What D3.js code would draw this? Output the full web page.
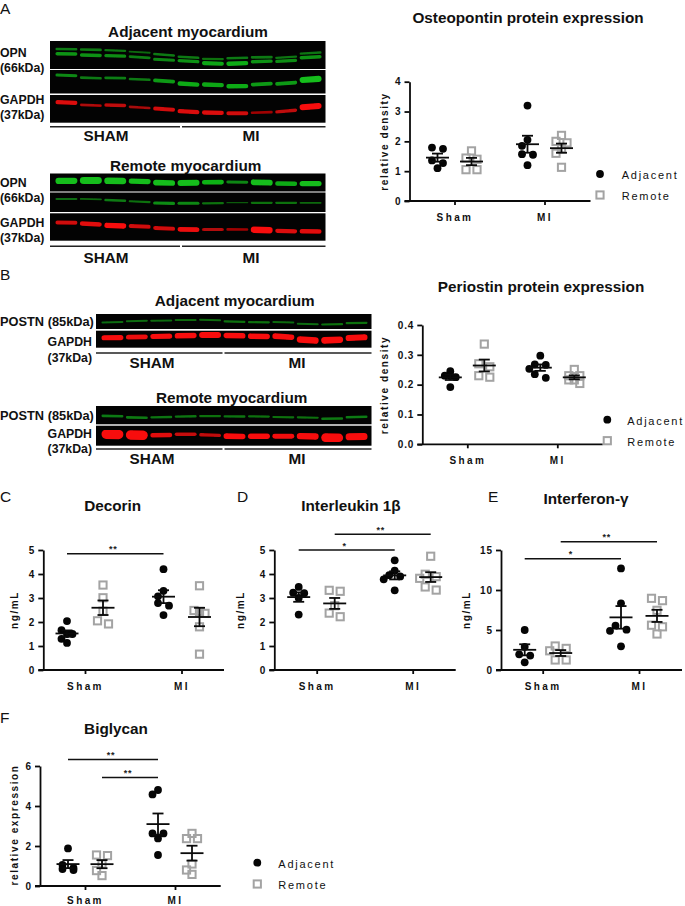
<!DOCTYPE html>
<html>
<head>
<meta charset="utf-8">
<script src="https://cdn.jsdelivr.net/npm/d3@7"></script>
<style>
  body { margin: 0; background: #fff; }
  svg { display: block; font-family: "Liberation Sans", Arial, sans-serif; }
</style>
</head>
<body>
<svg id="fig" width="685" height="906"></svg>
<script>
// categories
var groups = ["Sham", "MI"];
var seriesNames = ["Adjacent", "Remote"];

// values per group: [Sham, MI]
var opnAdjacent = [[1.79, 1.75, 1.36, 1.27, 1.10], [3.2, 2.05, 1.85, 1.55, 1.57, 1.2]];
var opnRemote = [[1.68, 1.40, 1.44, 1.05, 1.05], [2.2, 2.0, 1.95, 1.75, 1.6, 1.13]];
var postnAdjacent = [[.245, .23, .23, .225, .192], [.297, .268, .266, .253, .235, .223]];
var postnRemote = [[.336, .27, .26, .23, .225], [.251, .23, .23, .216, .216, .204]];
var decorinAdjacent = [[2.04, 1.66, 1.5, 1.5, 1.3, 1.13], [4.2, 3.3, 3.07, 2.79, 2.68, 2.29]];
var decorinRemote = [[3.54, 3.01, 2.45, 1.92, 2.05], [3.51, 2.48, 2.44, 2.36, 1.8, .66]];
var il1Adjacent = [[3.46, 3.22, 3.2, 3.0, 2.31], [4.57, 4.14, 3.95, 3.9, 3.78, 3.32]];
var il1Remote = [[3.32, 3.28, 2.68, 2.37, 2.22], [4.74, 3.99, 3.89, 3.82, 3.46, 3.33]];
var ifnAdjacent = [[5.0, 2.9, 1.96, 1.8, .96], [12.7, 8.33, 5.54, 5.04, 4.9, 2.96]];
var ifnRemote = [[3.0, 2.7, 2.4, 1.25, 1.25], [8.96, 8.67, 7.46, 5.4, 5.6, 4.5]];
var bgnAdjacent = [[1.88, 1.05, .9, .85, .8], [4.8, 4.58, 2.63, 2.63, 2.38, 1.55]];
var bgnRemote = [[1.52, 1.55, 1.1, .77, .52], [2.63, 2.37, 2.37, 1.1, .8, .58]];

// significance bars: [from group, from series, to group, to series, level, label]
var decorinSig = [[0, 0, 1, 0, 4.84, "**"]];
var il1Sig = [[0, 0, 1, 0, 5.0, "*"], [0, 1, 1, 1, 5.66, "**"]];
var ifnSig = [[0, 0, 1, 0, 13.9, "*"], [0, 1, 1, 1, 16.04, "**"]];
var bgnSig = [[0, 0, 1, 0, 6.33, "**"], [0, 1, 1, 0, 5.43, "**"]];

// blot bands, lane by lane: migration (0 top, 1 bottom of strip) and signal (0-1)
var a1OpnUpperLevel = [.29, .31, .34, .40, .49, .58, .64, .61, .58, .58, .43];
var a1OpnUpperSignal = [.2, .2, .18, .12, .2, .2, .16, .2, .2, .18, .18];
var a1OpnLowerLevel = [.46, .51, .53, .58, .67, .72, .80, .80, .73, .71, .58];
var a1OpnLowerSignal = [.32, .3, .28, .22, .25, .3, .38, .42, .3, .28, .3];
var a1ShortLevel = [.23, .34, .34, .40, .47, .60, .63, .69, .60, .56, .40];
var a1ShortSignal = [.26, .2, .22, .2, .34, .42, .4, .42, .34, .34, .6];
var a1GapdhLevel = [.27, .37, .37, .45, .51, .60, .64, .66, .63, .58, .42];
var a1GapdhSignal = [.4, .24, .3, .22, .36, .4, .4, .36, .2, .3, .58];
var a2OpnLevel = [.41, .39, .41, .44, .52, .52, .48, .48, .50, .56, .56];
var a2OpnSignal = [.62, .7, .68, .5, .55, .58, .45, .25, .58, .42, .5];
var a2ShortLevel = [.33, .34, .40, .47, .55, .55, .55, .52, .53, .53, .53];
var a2ShortSignal = [.14, .12, .2, .16, .28, .26, .16, .06, .16, .16, .12];
var a2GapdhLevel = [.34, .39, .45, .48, .55, .59, .59, .59, .61, .65, .66];
var a2GapdhSignal = [.36, .42, .52, .36, .36, .46, .26, .2, .64, .4, .42];
var b1PostnLevel = [.55, .47, .44, .40, .40, .51, .55, .55, .67, .69, .6];
var b1PostnSignal = [.14, .14, .13, .13, .13, .16, .16, .13, .14, .16, .16];
var b1GapdhLevel = [.41, .37, .33, .29, .25, .29, .33, .35, .55, .55, .41];
var b1GapdhSignal = [.5, .46, .5, .55, .6, .55, .55, .55, .66, .66, .6];
var b2PostnLevel = [.55, .63, .61, .57, .55, .57, .57, .61, .63, .69, .6];
var b2PostnSignal = [.2, .2, .18, .18, .16, .18, .16, .16, .16, .2, .2];
var b2GapdhLevel = [.43, .47, .47, .43, .47, .53, .53, .53, .53, .6, .55];
var b2GapdhSignal = [1, 1, .42, .32, .3, .56, .54, .48, .64, .9, .72];

var GREEN = "#12bd1a", RED = "#f80a0a", GREY = "#a3a3a3";
var svg = d3.select("#fig");
var defs = svg.append("defs");
defs.append("filter").attr("id", "soft").attr("x", "-20%").attr("y", "-100%").attr("width", "140%").attr("height", "300%")
    .append("feGaussianBlur").attr("stdDeviation", 0.6);

function label(x, y, t, opt) {
    opt = opt || {};
    return svg.append("text")
        .attr("x", x).attr("y", y)
        .attr("text-anchor", opt.anchor || "start")
        .attr("font-size", opt.size || 12.3)
        .attr("font-weight", opt.weight || "bold")
        .attr("letter-spacing", opt.ls || 0)
        .attr("fill", "#111")
        .text(t);
}

/* one strip of a blot */
function strip(x0, x1, y0, y1, color, bands) {
    var g = svg.append("g");
    g.append("rect").attr("x", x0).attr("y", y0).attr("width", x1 - x0).attr("height", y1 - y0).attr("fill", "#030303");
    var lanes = d3.scaleBand().domain(d3.range(bands[0].level.length)).range([x0 + 3, x1 - 1.5]).padding(0.1);
    var sy = d3.scaleLinear().domain([0, 1]).range([y0, y1]);
    var thick = d3.scaleLinear().domain([0, 1]).range([0.8, 9.5]);
    bands.forEach(function(b) {
        function inset(i) { return lanes.bandwidth() / 2 - thick(b.signal[i]) / 2; }
        g.append("g").attr("filter", "url(#soft)").selectAll("line")
            .data(b.level)
            .enter().append("line")
            .attr("x1", function(d, i) { return lanes(i) + lanes.bandwidth() / 2 - inset(i); })
            .attr("x2", function(d, i) { return lanes(i) + lanes.bandwidth() / 2 + inset(i); })
            .attr("y1", function(d, i) { return sy(d - slope(b.level, i)); })
            .attr("y2", function(d, i) { return sy(d + slope(b.level, i)); })
            .attr("stroke", color)
            .attr("stroke-width", function(d, i) { return thick(b.signal[i]); })
            .attr("stroke-opacity", function(d, i) { return Math.min(1, 0.4 + b.signal[i] * 1.2); })
            .attr("stroke-linecap", "round");
    });
}
function slope(a, i) {
    var p = a[Math.max(i - 1, 0)], n = a[Math.min(i + 1, a.length - 1)];
    return (n - p) * 0.14;
}

function underline(x0, xm, x1, y) {
    [[x0, xm - 1], [xm + 1, x1]].forEach(function(s) {
        svg.append("line").attr("x1", s[0]).attr("x2", s[1]).attr("y1", y).attr("y2", y)
            .attr("stroke", "#222").attr("stroke-width", 1.4);
    });
}

/* Blots */
label(188, 37, "Adjacent myocardium", {anchor: "middle", size: 15.3});
strip(50, 325.5, 41, 69, GREEN, [{level: a1OpnUpperLevel, signal: a1OpnUpperSignal}, {level: a1OpnLowerLevel, signal: a1OpnLowerSignal}]);
strip(50, 325.5, 70, 93.5, GREEN, [{level: a1ShortLevel, signal: a1ShortSignal}]);
strip(50, 325.5, 95, 122.7, RED, [{level: a1GapdhLevel, signal: a1GapdhSignal}]);
underline(50, 181, 325.5, 126.7);
label(106, 141, "SHAM", {anchor: "middle", size: 15.3});
label(251, 141, "MI", {anchor: "middle", size: 15.3});
label(0, 57, "OPN");
label(0, 72, "(66kDa)");
label(0, 104, "GAPDH");
label(0, 119, "(37kDa)");

label(185.7, 171, "Remote myocardium", {anchor: "middle", size: 15.3});
strip(50, 325.5, 173.5, 191.5, GREEN, [{level: a2OpnLevel, signal: a2OpnSignal}]);
strip(50, 325.5, 192.5, 212, GREEN, [{level: a2ShortLevel, signal: a2ShortSignal}]);
strip(50, 325.5, 213.3, 240.7, RED, [{level: a2GapdhLevel, signal: a2GapdhSignal}]);
underline(50, 181, 325.5, 246.3);
label(106, 263, "SHAM", {anchor: "middle", size: 15.3});
label(251, 263, "MI", {anchor: "middle", size: 15.3});
label(0, 187, "OPN");
label(0, 202, "(66kDa)");
label(0, 227, "GAPDH");
label(0, 242, "(37kDa)");

label(234.7, 306, "Adjacent myocardium", {anchor: "middle", size: 15.3});
strip(96, 371.5, 314, 329, GREEN, [{level: b1PostnLevel, signal: b1PostnSignal}]);
strip(96, 371.5, 330.7, 347.7, RED, [{level: b1GapdhLevel, signal: b1GapdhSignal}]);
underline(96, 223.5, 371.5, 353);
label(152, 368, "SHAM", {anchor: "middle", size: 15.3});
label(297, 368, "MI", {anchor: "middle", size: 15.3});
label(0, 326, "POSTN (85kDa)", {size: 12.8});
label(92, 346, "GAPDH", {anchor: "end"});
label(92, 362, "(37kDa)", {anchor: "end"});

label(231.7, 403, "Remote myocardium", {anchor: "middle", size: 15.3});
strip(96, 371.5, 406, 424.3, GREEN, [{level: b2PostnLevel, signal: b2PostnSignal}]);
strip(96, 371.5, 425.7, 445.7, RED, [{level: b2GapdhLevel, signal: b2GapdhSignal}]);
underline(96, 223.5, 371.5, 449);
label(152, 464, "SHAM", {anchor: "middle", size: 15.3});
label(297, 464, "MI", {anchor: "middle", size: 15.3});
label(0, 420, "POSTN (85kDa)", {size: 12.8});
label(92, 438, "GAPDH", {anchor: "end"});
label(92, 453, "(37kDa)", {anchor: "end"});

/* Spread points of a column sideways the way a scatter dot plot does */
function swarm(values, y) {
    var step = 5.5, dia = 6.8, binPx = 4;
    var pts = values.map(function(v) { return {v: v, py: y(v), dx: 0}; });
    var sorted = pts.slice().sort(function(a, b) { return a.py - b.py; });
    var placed = [], i = 0;
    while (i < sorted.length) {
        var bin = [sorted[i]], j = i + 1;
        while (j < sorted.length && sorted[j].py - sorted[i].py < binPx) { bin.push(sorted[j]); j++; }
        if (bin.length == 1) {
            var p = bin[0];
            var free = [0, -step, step, -2 * step, 2 * step].filter(function(dx) {
                return placed.every(function(q) { return Math.hypot(q.dx - dx, q.py - p.py) >= dia; });
            });
            p.dx = free.length ? free[0] : 0;
        } else {
            bin.forEach(function(p, k) {
                p.dx = bin.length == 2 ? (k ? step : -step) : (k - (bin.length - 1) / 2) * step;
            });
        }
        placed = placed.concat(bin);
        i = j;
    }
    return pts;
}

function drawMarker(sel, s) {
    if (s == 0) {
        sel.append("circle").attr("r", 3.9).attr("fill", "#050505");
    } else {
        sel.append("rect").attr("x", -3.6).attr("y", -3.6).attr("width", 7.2).attr("height", 7.2)
            .attr("fill", "none").attr("stroke", GREY).attr("stroke-width", 2);
    }
}

/* One scatter plot */
function scatter(o) {
    var g = svg.append("g");
    var y = d3.scaleLinear().domain([0, o.max]).range([o.y0, o.yTop]);
    var x = d3.scaleOrdinal().domain(groups).range(o.ticks);

    // y axis
    var ya = g.append("g").attr("transform", "translate(" + o.x0 + ",0)")
        .call(d3.axisLeft(y).tickValues(o.yTicks).tickSizeInner(5).tickSizeOuter(0).tickPadding(3)
            .tickFormat(o.fmt || d3.format("d")));
    // x axis
    var xa = g.append("g").attr("transform", "translate(0," + o.y0 + ")")
        .call(d3.axisBottom(x).tickSizeInner(4).tickSizeOuter(0).tickPadding(o.tickPad || 9));
    xa.select(".domain").attr("d", "M" + (o.x0 - 5) + ",0H" + o.x1);
    [ya, xa].forEach(function(a) {
        a.selectAll(".domain,.tick line").attr("stroke", "#0a0a0a").attr("stroke-width", 1.8);
        a.selectAll("text").attr("font-family", null).attr("font-size", 10).attr("font-weight", "bold").attr("fill", "#111");
    });
    ya.selectAll("text").attr("letter-spacing", 0.9);
    xa.selectAll("text").attr("letter-spacing", 2.4);

    // y title
    g.append("text")
        .attr("transform", "translate(" + o.titleX + "," + o.titleY + ") rotate(-90)")
        .attr("text-anchor", "middle").attr("font-size", 10).attr("font-weight", "bold")
        .attr("letter-spacing", 1.6).attr("fill", "#111")
        .attr("dominant-baseline", "middle")
        .text(o.yLabel);

    // points and mean +- SEM
    o.series.forEach(function(data, s) {
        data.forEach(function(vals, gi) {
            var cx = o.ticks[gi] + (s == 0 ? -o.off : o.off);
            var col = g.append("g");
            col.selectAll("g.pt").data(swarm(vals, y)).enter().append("g").attr("class", "pt")
                .attr("transform", function(p) { return "translate(" + (cx + p.dx) + "," + p.py + ")"; })
                .each(function() { drawMarker(d3.select(this), s); });

            var m = d3.mean(vals), sem = d3.deviation(vals) / Math.sqrt(vals.length);
            var segs = [[cx - 11.5, cx + 11.5, m, m], [cx - 5.5, cx + 5.5, m + sem, m + sem],
                        [cx - 5.5, cx + 5.5, m - sem, m - sem], [cx, cx, m - sem, m + sem]];
            col.selectAll("line").data(segs).enter().append("line")
                .attr("x1", function(d) { return d[0]; }).attr("x2", function(d) { return d[1]; })
                .attr("y1", function(d) { return y(d[2]); }).attr("y2", function(d) { return y(d[3]); })
                .attr("stroke", "#0a0a0a").attr("stroke-width", 1.8);
        });
    });

    // significance bars
    (o.sig || []).forEach(function(b) {
        var xa1 = o.ticks[b[0]] + (b[1] == 0 ? -o.off : o.off);
        var xa2 = o.ticks[b[2]] + (b[3] == 0 ? -o.off : o.off);
        g.append("line").attr("x1", xa1).attr("x2", xa2).attr("y1", y(b[4])).attr("y2", y(b[4]))
            .attr("stroke", "#111").attr("stroke-width", 1.5);
        g.append("text").attr("x", (xa1 + xa2) / 2 - 2).attr("y", y(b[4]) - 1.5)
            .attr("text-anchor", "middle").attr("font-size", 9).attr("font-weight", "bold")
            .attr("letter-spacing", 0.8).attr("fill", "#222").text(b[5]);
    });

    label(o.tx, o.ty, o.title, {anchor: "middle", size: 15.3});
}

function legend(x, y1, y2, xt) {
    [y1, y2].forEach(function(yy, s) {
        var m = svg.append("g").attr("transform", "translate(" + x + "," + yy + ")");
        drawMarker(m, s);
        label(xt, yy + 4.8, seriesNames[s], {size: 11, weight: "normal", ls: 1.75});
    });
}

scatter({title: "Osteopontin protein expression", tx: 528, ty: 23, series: [opnAdjacent, opnRemote],
    max: 4, yTicks: [0, 1, 2, 3, 4], x0: 409.5, x1: 590.5, y0: 201, yTop: 81.7, ticks: [454.5, 544.5], off: 17,
    yLabel: "relative density", titleX: 385, titleY: 141.5});
legend(600, 174, 195, 621.7);

scatter({title: "Periostin protein expression", tx: 541, ty: 292, series: [postnAdjacent, postnRemote],
    max: .4, yTicks: [0, .1, .2, .3, .4], fmt: d3.format(".1f"), x0: 422.3, x1: 602.7, y0: 444.3, yTop: 325, ticks: [467.3, 557.3], off: 17,
    yLabel: "relative density", titleX: 385, titleY: 385});
legend(607.3, 419.7, 440.7, 627.2);

scatter({title: "Decorin", tx: 112.7, ty: 510.7, series: [decorinAdjacent, decorinRemote], sig: decorinSig,
    max: 5, yTicks: [0, 1, 2, 3, 4, 5], x0: 43.3, x1: 224, y0: 670, yTop: 550, ticks: [85, 181.5], off: 18,
    yLabel: "ng/mL", titleX: 15, titleY: 610});

scatter({title: "Interleukin 1\u03b2", tx: 351, ty: 510.7, series: [il1Adjacent, il1Remote], sig: il1Sig,
    max: 5, yTicks: [0, 1, 2, 3, 4, 5], x0: 274.3, x1: 455.7, y0: 670, yTop: 550, ticks: [316.7, 412.7], off: 18,
    yLabel: "ng/mL", titleX: 241.7, titleY: 610});

scatter({title: "Interferon-\u03b3", tx: 586, ty: 503.7, series: [ifnAdjacent, ifnRemote], sig: ifnSig,
    max: 15, yTicks: [0, 5, 10, 15], x0: 501, x1: 682, y0: 670, yTop: 550, ticks: [542.7, 639], off: 18,
    yLabel: "ng/mL", titleX: 467.3, titleY: 610});

scatter({title: "Biglycan", tx: 116, ty: 734, series: [bgnAdjacent, bgnRemote], sig: bgnSig,
    max: 6, yTicks: [0, 2, 4, 6], x0: 40, x1: 220.7, y0: 886, yTop: 766, ticks: [85, 175], off: 17, tickPad: 6.5,
    yLabel: "relative expression", titleX: 15, titleY: 825});
legend(257.3, 862.7, 884, 278.3);

/* Panel letters */
[["A", 0, 14], ["B", 0, 280], ["C", 0, 502], ["D", 237, 502], ["E", 488, 502], ["F", 0, 723]].forEach(function(d) {
    label(d[1], d[2], d[0], {size: 15.5, weight: "normal"});
});
</script>
</body>
</html>
